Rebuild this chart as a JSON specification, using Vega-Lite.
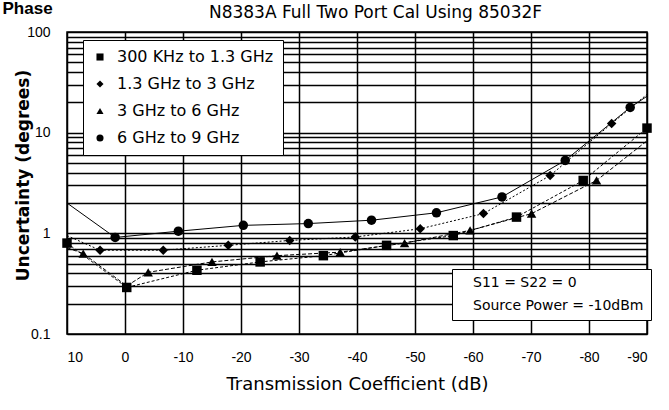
{
  "$schema": "https://vega.github.io/schema/vega-lite/v6.json",
  "width": 580,
  "height": 302,
  "autosize": {"type": "none"},
  "padding": {"left": 67, "top": 32, "right": 22, "bottom": 76},
  "background": "white",
  "config": {"view": {"stroke": "black", "strokeWidth": 1.5}, "font": "Liberation Sans"},
  "datasets": {
    "lines": [
      {"series": "300 KHz to 1.3 GHz", "dB": 10, "deg": 0.80},
      {"series": "300 KHz to 1.3 GHz", "dB": -0.3, "deg": 0.29},
      {"series": "300 KHz to 1.3 GHz", "dB": -12.4, "deg": 0.43},
      {"series": "300 KHz to 1.3 GHz", "dB": -23.3, "deg": 0.52},
      {"series": "300 KHz to 1.3 GHz", "dB": -34.2, "deg": 0.60},
      {"series": "300 KHz to 1.3 GHz", "dB": -45.1, "deg": 0.76},
      {"series": "300 KHz to 1.3 GHz", "dB": -56.6, "deg": 0.95},
      {"series": "300 KHz to 1.3 GHz", "dB": -67.5, "deg": 1.45},
      {"series": "300 KHz to 1.3 GHz", "dB": -79, "deg": 3.35},
      {"series": "300 KHz to 1.3 GHz", "dB": -90, "deg": 11.1},
      {"series": "1.3 GHz to 3 GHz", "dB": 10, "deg": 0.95},
      {"series": "1.3 GHz to 3 GHz", "dB": 4.3, "deg": 0.68},
      {"series": "1.3 GHz to 3 GHz", "dB": -6.6, "deg": 0.68},
      {"series": "1.3 GHz to 3 GHz", "dB": -17.8, "deg": 0.76},
      {"series": "1.3 GHz to 3 GHz", "dB": -28.4, "deg": 0.85},
      {"series": "1.3 GHz to 3 GHz", "dB": -39.7, "deg": 0.92},
      {"series": "1.3 GHz to 3 GHz", "dB": -50.9, "deg": 1.11},
      {"series": "1.3 GHz to 3 GHz", "dB": -61.8, "deg": 1.57},
      {"series": "1.3 GHz to 3 GHz", "dB": -73.3, "deg": 3.75},
      {"series": "1.3 GHz to 3 GHz", "dB": -83.9, "deg": 12.3},
      {"series": "1.3 GHz to 3 GHz", "dB": -90, "deg": 24},
      {"series": "3 GHz to 6 GHz", "dB": 10, "deg": 0.72},
      {"series": "3 GHz to 6 GHz", "dB": 7.2, "deg": 0.63},
      {"series": "3 GHz to 6 GHz", "dB": -0.3, "deg": 0.30},
      {"series": "3 GHz to 6 GHz", "dB": -4, "deg": 0.41},
      {"series": "3 GHz to 6 GHz", "dB": -15, "deg": 0.52},
      {"series": "3 GHz to 6 GHz", "dB": -26.2, "deg": 0.60},
      {"series": "3 GHz to 6 GHz", "dB": -37.1, "deg": 0.65},
      {"series": "3 GHz to 6 GHz", "dB": -48.2, "deg": 0.80},
      {"series": "3 GHz to 6 GHz", "dB": -59.5, "deg": 1.07},
      {"series": "3 GHz to 6 GHz", "dB": -70.1, "deg": 1.57},
      {"series": "3 GHz to 6 GHz", "dB": -81.3, "deg": 3.35},
      {"series": "3 GHz to 6 GHz", "dB": -90, "deg": 8.3},
      {"series": "6 GHz to 9 GHz", "dB": 10, "deg": 2.0},
      {"series": "6 GHz to 9 GHz", "dB": 1.7, "deg": 0.91},
      {"series": "6 GHz to 9 GHz", "dB": -9.2, "deg": 1.05},
      {"series": "6 GHz to 9 GHz", "dB": -20.4, "deg": 1.20},
      {"series": "6 GHz to 9 GHz", "dB": -31.6, "deg": 1.25},
      {"series": "6 GHz to 9 GHz", "dB": -42.5, "deg": 1.35},
      {"series": "6 GHz to 9 GHz", "dB": -53.7, "deg": 1.60},
      {"series": "6 GHz to 9 GHz", "dB": -65, "deg": 2.3},
      {"series": "6 GHz to 9 GHz", "dB": -75.9, "deg": 5.3},
      {"series": "6 GHz to 9 GHz", "dB": -87.1, "deg": 17.8},
      {"series": "6 GHz to 9 GHz", "dB": -90, "deg": 23}
    ],
    "markers": [
      {"series": "300 KHz to 1.3 GHz", "dB": 10, "deg": 0.80},
      {"series": "300 KHz to 1.3 GHz", "dB": -0.3, "deg": 0.29},
      {"series": "300 KHz to 1.3 GHz", "dB": -12.4, "deg": 0.43},
      {"series": "300 KHz to 1.3 GHz", "dB": -23.3, "deg": 0.52},
      {"series": "300 KHz to 1.3 GHz", "dB": -34.2, "deg": 0.60},
      {"series": "300 KHz to 1.3 GHz", "dB": -45.1, "deg": 0.76},
      {"series": "300 KHz to 1.3 GHz", "dB": -56.6, "deg": 0.95},
      {"series": "300 KHz to 1.3 GHz", "dB": -67.5, "deg": 1.45},
      {"series": "300 KHz to 1.3 GHz", "dB": -79, "deg": 3.35},
      {"series": "300 KHz to 1.3 GHz", "dB": -90, "deg": 11.1},
      {"series": "1.3 GHz to 3 GHz", "dB": 4.3, "deg": 0.68},
      {"series": "1.3 GHz to 3 GHz", "dB": -6.6, "deg": 0.68},
      {"series": "1.3 GHz to 3 GHz", "dB": -17.8, "deg": 0.76},
      {"series": "1.3 GHz to 3 GHz", "dB": -28.4, "deg": 0.85},
      {"series": "1.3 GHz to 3 GHz", "dB": -39.7, "deg": 0.92},
      {"series": "1.3 GHz to 3 GHz", "dB": -50.9, "deg": 1.11},
      {"series": "1.3 GHz to 3 GHz", "dB": -61.8, "deg": 1.57},
      {"series": "1.3 GHz to 3 GHz", "dB": -73.3, "deg": 3.75},
      {"series": "1.3 GHz to 3 GHz", "dB": -83.9, "deg": 12.3},
      {"series": "3 GHz to 6 GHz", "dB": 7.2, "deg": 0.63},
      {"series": "3 GHz to 6 GHz", "dB": -4, "deg": 0.41},
      {"series": "3 GHz to 6 GHz", "dB": -15, "deg": 0.52},
      {"series": "3 GHz to 6 GHz", "dB": -26.2, "deg": 0.60},
      {"series": "3 GHz to 6 GHz", "dB": -37.1, "deg": 0.65},
      {"series": "3 GHz to 6 GHz", "dB": -48.2, "deg": 0.80},
      {"series": "3 GHz to 6 GHz", "dB": -59.5, "deg": 1.07},
      {"series": "3 GHz to 6 GHz", "dB": -70.1, "deg": 1.57},
      {"series": "3 GHz to 6 GHz", "dB": -81.3, "deg": 3.35},
      {"series": "6 GHz to 9 GHz", "dB": 1.7, "deg": 0.91},
      {"series": "6 GHz to 9 GHz", "dB": -9.2, "deg": 1.05},
      {"series": "6 GHz to 9 GHz", "dB": -20.4, "deg": 1.20},
      {"series": "6 GHz to 9 GHz", "dB": -31.6, "deg": 1.25},
      {"series": "6 GHz to 9 GHz", "dB": -42.5, "deg": 1.35},
      {"series": "6 GHz to 9 GHz", "dB": -53.7, "deg": 1.60},
      {"series": "6 GHz to 9 GHz", "dB": -65, "deg": 2.3},
      {"series": "6 GHz to 9 GHz", "dB": -75.9, "deg": 5.3},
      {"series": "6 GHz to 9 GHz", "dB": -87.1, "deg": 17.8}
    ],
    "notes": [
      {"note": "S11 = S22 = 0"},
      {"note": "Source Power = -10dBm"}
    ]
  },
  "resolve": {"axis": {"x": "independent", "y": "independent"}},
  "layer": [
    {
      "data": {"name": "lines"},
      "transform": [{"filter": "datum.series == '6 GHz to 9 GHz'"}],
      "mark": {"type": "line", "color": "black", "strokeWidth": 1},
      "encoding": {
        "x": {
          "field": "dB", "type": "quantitative",
          "scale": {"domain": [-90, 10], "reverse": true, "nice": false, "zero": false},
          "axis": {
            "orient": "bottom",
            "values": [10, 0, -10, -20, -30, -40, -50, -60, -70, -80, -90],
            "labelExpr": "'' + datum.value",
            "grid": true, "gridColor": "black", "gridWidth": 1.5, "gridOpacity": 1,
            "ticks": false, "domain": false,
            "labelFontSize": 14, "labelColor": "black", "labelPadding": 16,
            "title": "Transmission Coefficient (dB)",
            "titleFont": "DejaVu Sans", "titleFontSize": 18, "titleFontWeight": "normal",
            "titleColor": "black", "titlePadding": 11
          }
        },
        "y": {
          "field": "deg", "type": "quantitative",
          "scale": {"type": "log", "domain": [0.1, 100], "nice": false},
          "axis": {
            "orient": "left",
            "values": [0.1, 0.2, 0.3, 0.4, 0.5, 0.6, 0.7, 0.8, 0.9, 1, 2, 3, 4, 5, 6, 7, 8, 9, 10, 20, 30, 40, 50, 60, 70, 80, 90, 100],
            "labelExpr": "datum.value == 0.1 ? '0.1' : datum.value == 1 ? '1' : datum.value == 10 ? '10' : datum.value == 100 ? '100' : ''",
            "grid": true, "gridColor": "black", "gridWidth": 1.5, "gridOpacity": 1,
            "ticks": false, "domain": false,
            "labelFontSize": 14, "labelColor": "black", "labelPadding": 17,
            "title": "Uncertainty (degrees)",
            "titleFont": "DejaVu Sans", "titleFontSize": 17, "titleFontWeight": "bold",
            "titleColor": "black", "titleAngle": 270, "titleAlign": "center", "titleBaseline": "middle",
            "titleX": -44, "titleY": 143
          }
        }
      }
    },
    {
      "data": {"name": "lines"},
      "transform": [{"filter": "datum.series == '300 KHz to 1.3 GHz'"}],
      "mark": {"type": "line", "color": "black", "strokeWidth": 1, "strokeDash": [3, 2]},
      "encoding": {
        "x": {"field": "dB", "type": "quantitative", "axis": null},
        "y": {"field": "deg", "type": "quantitative", "axis": null}
      }
    },
    {
      "data": {"name": "lines"},
      "transform": [{"filter": "datum.series == '1.3 GHz to 3 GHz'"}],
      "mark": {"type": "line", "color": "black", "strokeWidth": 1, "strokeDash": [2, 2]},
      "encoding": {
        "x": {"field": "dB", "type": "quantitative", "axis": null},
        "y": {"field": "deg", "type": "quantitative", "axis": null}
      }
    },
    {
      "data": {"name": "lines"},
      "transform": [{"filter": "datum.series == '3 GHz to 6 GHz'"}],
      "mark": {"type": "line", "color": "black", "strokeWidth": 1, "strokeDash": [4, 2]},
      "encoding": {
        "x": {"field": "dB", "type": "quantitative", "axis": null},
        "y": {"field": "deg", "type": "quantitative", "axis": null}
      }
    },
    {
      "data": {"name": "markers"},
      "mark": {"type": "point", "filled": true, "color": "black", "opacity": 1, "size": 90},
      "encoding": {
        "x": {
          "field": "dB", "type": "quantitative",
          "axis": {
            "orient": "top", "labels": false, "ticks": false, "domain": false, "grid": false,
            "title": "N8383A Full Two Port Cal Using 85032F",
            "titleFont": "DejaVu Sans", "titleFontSize": 17, "titleFontWeight": "normal", "titleColor": "black",
            "titleX": 308, "titleY": -20, "titleAlign": "center", "titleBaseline": "middle"
          }
        },
        "y": {
          "field": "deg", "type": "quantitative",
          "axis": {
            "orient": "right", "labels": false, "ticks": false, "domain": false, "grid": false,
            "title": "Phase", "titleFont": "Liberation Sans", "titleFontSize": 17, "titleFontWeight": "bold", "titleColor": "black",
            "titleAngle": 0, "titleX": -645, "titleY": -19, "titleAlign": "left", "titleBaseline": "alphabetic"
          }
        },
        "shape": {
          "field": "series", "type": "nominal",
          "scale": {"domain": ["300 KHz to 1.3 GHz", "1.3 GHz to 3 GHz", "3 GHz to 6 GHz", "6 GHz to 9 GHz"], "range": ["square", "diamond", "triangle-up", "circle"]},
          "legend": {
            "orient": "none", "legendX": 16, "legendY": 8, "title": null,
            "fillColor": "white", "strokeColor": "black", "padding": 9, "rowPadding": 11,
            "labelFont": "DejaVu Sans", "labelFontSize": 16, "labelColor": "black", "labelOffset": 9, "labelLimit": 300,
            "symbolSize": 50, "symbolFillColor": "black", "symbolStrokeColor": "black", "symbolStrokeWidth": 0
          }
        }
      }
    },
    {
      "data": {"name": "notes"},
      "mark": {"type": "point", "opacity": 0},
      "encoding": {
        "color": {
          "field": "note", "type": "nominal",
          "scale": {"range": ["black", "black"]},
          "legend": {
            "orient": "none", "legendX": 385, "legendY": 237, "title": null,
            "fillColor": "white", "strokeColor": "black", "padding": 7, "rowPadding": 9,
            "labelFont": "DejaVu Sans", "labelFontSize": 14, "labelColor": "black", "labelOffset": 0, "labelLimit": 300,
            "symbolSize": 0, "symbolOpacity": 0
          }
        }
      }
    }
  ]
}
